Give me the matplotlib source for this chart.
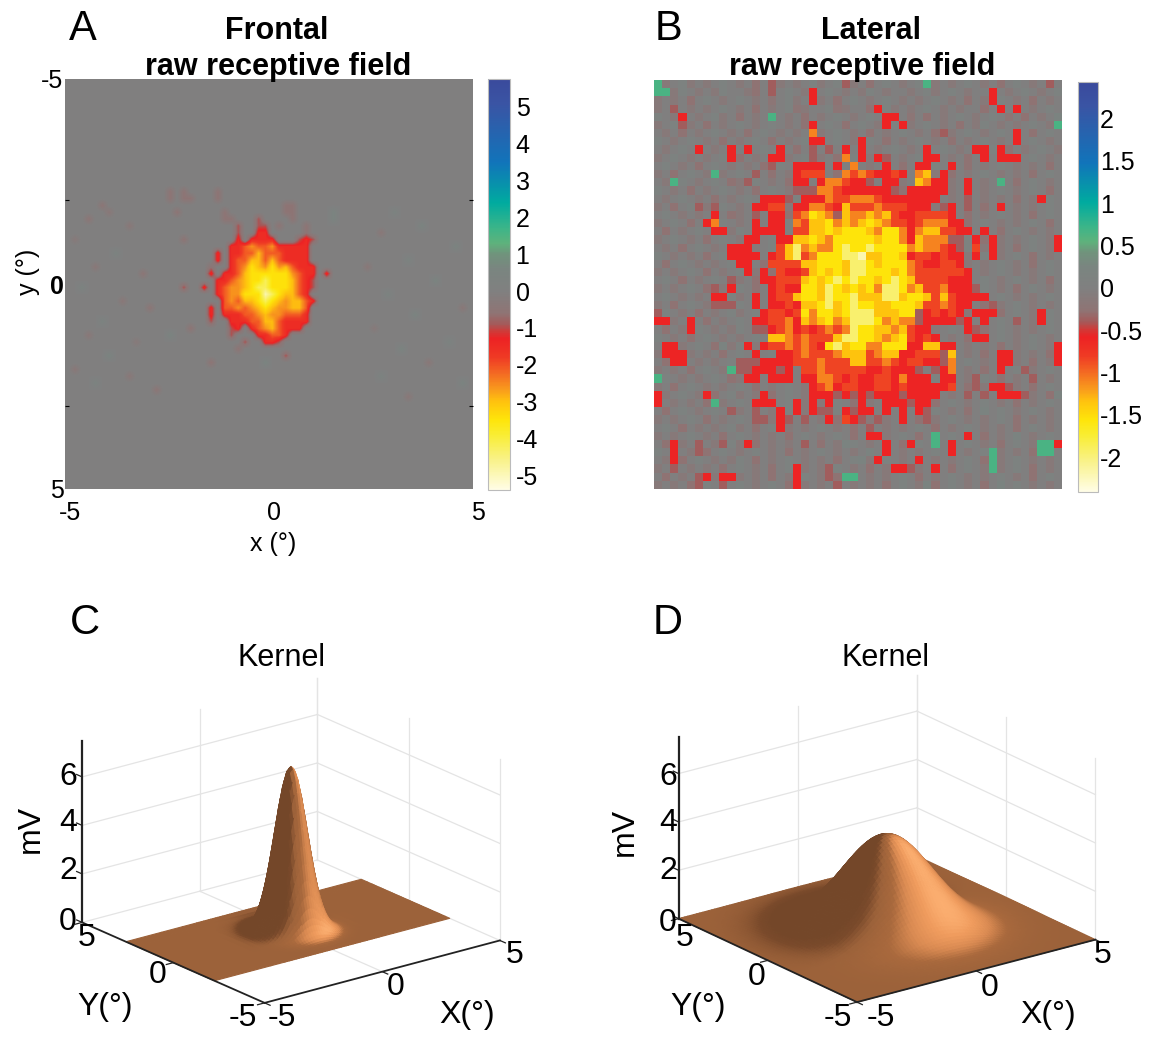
#!/usr/bin/env python3
# Receptive fields (top) and fitted kernels (bottom) for frontal and lateral eye
import numpy as np
import matplotlib
matplotlib.use("Agg")
import matplotlib.pyplot as plt
from matplotlib.colors import LinearSegmentedColormap, to_rgb
from matplotlib.transforms import ScaledTranslation
from mpl_toolkits.mplot3d import Axes3D  # noqa: F401

W, H = 1149, 1038
plt.rcParams.update({"font.family": ["Liberation Sans", "DejaVu Sans"], "font.size": 17})

# ── colour scale anchors ────
CBAR_A_VALUES = [-5.4, -4.6, -3.9, -3.5, -3.0, -2.7, -2.2, -1.8, -1.3, -1.1, -0.9, -0.6,
                 0, 0.6, 1.0, 1.3, 1.7, 2.4, 3.5, 5.1, 5.76]
CBAR_COLORS = ["#fffde6", "#f9f28a", "#f9ed32", "#fee50a", "#ffc20e", "#f99d1c", "#f36523",
               "#ef3a24", "#ed2224", "#d03a38", "#a45a5a", "#8f7474", "#808080", "#7a8580",
               "#70937c", "#5eb27c", "#3db588", "#00ab9f", "#1174ba", "#3a54a4", "#3a4a9c"]
CBAR_A_TICKS = [5, 4, 3, 2, 1, 0, -1, -2, -3, -4, -5]
CBAR_B_TICKS = [2, 1.5, 1, 0.5, 0, -0.5, -1, -1.5, -2]
CBAR_B_LABELS = ["2", "1.5", "1", "0.5", "0", "-0.5", "-1", "-1.5", "-2"]
VLIM_A = (-5.4, 5.76)
VLIM_B = (-2.41, 2.43)

# ── panel A: central blob, cell codes → value ────────────────
LEVELS_A = {".": 0, "t": 0.5, "f": -0.55, "d": -0.95, "r": -1.5, "e": -2.1, "o": -2.6,
            "a": -2.95, "y": -3.45, "l": -4.2, "w": -4.9}
FIELD_A_N = 60
BLOB_A_ROW0, BLOB_A_COL0 = 16, 15
BLOB_A = [
    "f.f....f.. .......... ..........",
    "f.ff...f.. .......... ..........",
    ".......... .......ff. ..........",
    ".f......f. .......ff. ....t.....",
    "........ff ...d....f. ....t.....",
    ".......... d..dd.f... f.........",
    ".......... d..rr..... f.........",
    "..f....... r.rrrr...d rd........",
    ".........r reoeeorrrr r.........",
    ".......r.r reeaeeerrr r.........",
    ".......r.r eeaaeaerrr r.........",
    "......f..r eoyaoyoaer rr........",
    "......r.rr eayyyyyyoe rr.r......",
    ".......rre oayylyyyae rd........",
    "..d..r.reo oayllyyyae rd........",
    ".......reo oyyywlyaae r.........",
    "........eo eaaylyaoaa er........",
    "......r.ee oeoayaooaa e.........",
    "......r.rr reeoaooeee r.........",
    "......d..r rreeaaerrr r.........",
    "...f.....d r.reoaerrr ..........",
    "t........d ...rreer.. ..........",
    ".......... .d..rrd... ..........",
    ".......... f......... ..........",
    ".......... .......d.. ..........",
    "......f... ....t..... ..........",
    ".......... .......... ..........",
]
# faint speckle in the mid band of panel A
FAINT_A_ROWS = [18, 19, 20, 21, 23, 25, 27, 28, 30, 32, 33, 35, 37, 38, 40, 42, 43, 44, 45,
                19, 21, 22, 24, 26, 27, 29, 31, 33, 34, 36, 38, 39, 41, 43, 44, 46]
FAINT_A_COLS = [5, 6, 3, 9, 1, 7, 4, 11, 2, 8, 12, 5, 3, 10, 6, 1, 9, 4, 13,
                48, 52, 46, 57, 50, 44, 54, 47, 58, 51, 45, 56, 49, 53, 46, 58, 50]
FAINT_A_VALS = [-0.5, -0.4, -0.5, -0.4, -0.3, 0.4, -0.4, -0.5, 0.4, -0.4, -0.5, 0.4, -0.4, -0.3,
                0.5, -0.4, -0.4, 0.4, -0.5,
                0.4, 0.5, -0.4, 0.5, 0.4, -0.4, 0.5, 0.4, -0.4, 0.5, -0.3, 0.4, 0.5, -0.4,
                0.4, 0.5, -0.4]

# ── panel B: 50 x 50 cells, cell codes → value ───────────────
LEVELS_B = {".": 0, "h": 0.18, "g": 0.65, "f": -0.22, "d": -0.38, "r": -0.6, "e": -0.85,
            "o": -1.1, "a": -1.35, "y": -1.55, "l": -1.95, "w": -2.2}
LEVELS_MOTTLE = {".": 0, "h": 0.12, "f": -0.14, "d": -0.27}
FIELD_B = [
    "g......... ....d..... ...d...... ...g...... ........d.",
    "gg........ ....d....r .......... .......... .r........",
    ".......... ....f....r .......... .......... .r........",
    "..d....... .......f.. ..f....r.. .......... ..r.r.....",
    "...r...... ....g..... ........rr .f........ ...f.....h",
    "...d...... .........r ........r. r......... .........g",
    ".......... .........o .......... .....d.... ....r.....",
    ".......... .........r r....r.... .......... ....r.....",
    ".....r...r .r...r...d .d.r.r.... ...r.....r r.r.......",
    ".........r ....rr...d ...o.r.rd. ...rr..... r.rrr.....",
    ".......... ....d..rrr r.r.o...r. ..rr..r... ..........",
    ".......g.. ..d....ree e..oeoerre r.oa.r.... ..........",
    "..g....... .d.....rr. rooerrd.rr ..aorr..r. ..g.......",
    ".......... .......ddd ooerrrrrrd .rrrrr..r. ..........",
    ".......... ...rrrd.rr roeeoooerr rrrrr...d. .......r..",
    ".....d.d.. ..rree.rro oeraeeeoee errr.dr.d. ..r.......",
    ".......r.. ..d.rr.eoy aodaooaoae rreeeer... ..........",
    "......ro.. ..r.rr.oea ayoaoayaoe ereooorr.. ..........",
    ".......rr. ..rrrr.eea ayayyyaoyy oroaaeerr. r.........",
    ".......... .rr..rraay aoyyyyyayy oraooodd.r .r.......r",
    ".........r rr...ealoa ooylyylyyy yoaooerd.e .r.......r",
    ".........r rrr.realeo yyyllwaayy areererr.r .r........",
    ".......... rr..eeeeaa yyyallyayy yoerreer.. ..........",
    ".......... .r.r.errea yayallyyya yoeeeeeer. ..........",
    ".........d ...rreeeay aylylyyayl yaeeeerrr. ..........",
    ".......d.r ....rerryy alyayayoll yoaeeorrrd ..........",
    ".......rr. ..r.reeayy alyylaaall ayyaeaerrr r.........",
    ".......ddd ..r.rreraa ylaylyyaay yyaeeoerr. .d........",
    "d......... ...reereyo yyaylllaaa yydrerer.r rr.....r..",
    "rr..r..... ..rreeorao ayoalllyoa oodrrrrdr. r...d..r..",
    "....r..... ..ddreorer eoeolyyaao aerr....rd ..........",
    ".......... ....aaoeoe eeallyyaoa yerer....r r.........",
    ".rr.....h. .r.reeoeoe rylayyooyy yrraarr... .........r",
    ".rrr...... ..r..rreoe eeoaaaeoaa rreeeda... ..rr.....r",
    "..rr...... dddrrrreee oeeeaaeeoe reerrdo... ..rr.....r",
    ".........g ddrrrdr.ee oeeeeerrer rrd.dro... ..r..d....",
    "g......... .rr.rrr.rr ooererreer orrr.rr..d ......d...",
    ".......... .........r eoreerreer errrrre..d .rrd......",
    "r.....r... ...r.....r rrdrdrdrrr drrrr...d. d.rrrd...h",
    "r......g.. ..rrr..r.r .r...r..rr rdrr...... ..........",
    ".........d ..d..r.r.r dd.rdrr.r. r.rd...... h.........",
    ".......... ..dd.rd.d. .r.erd.d.. r..d...... ..........",
    ".......... .....r.... ......d... .......... ..........",
    ".......... .......... ......rr.. ....g...r. ....h.....",
    "..r..d..d. .r......d. ...h....r. .r..g.r... .......ggr",
    "..r..d.... .......... ......h.r. ......r... .g.....gg.",
    "..r....... .......... .....h.r.. ..r....... .g........",
    "..d....... .......r.. .d.......r rd..r..... .g........",
    ".....dr.rr .......r.. .d.gg..... .......... ..........",
    ".....d..d. .......r.. ..d....... ...h...... ..h.......",
]
# mottled background of panel B, used only where FIELD_B has "."
MOTTLE_B = [
    ".f.hf.f.h. f.d.hf.f.h f.h.f.d.h. f.h.f.f.h. f.d.h.f.h.",
    "..fh.f.fh. .fd.f.h.f. .h.f.fh.f. .f.hf.h.f. .d.f.h.f.h",
    "f.f.d.h.f. h.f.f.hf.. f.d.h.f.h. f.f.h.f.d. f.h.f.d.f.",
    "f.h.f.f.h. f.d.f.h.f. .h.f..d.hf .f.h.f.f.. d.h.f.f.h.",
    "h.f..f.hf. d.f.h.f.d. f.h.f.h.f. .h.d.f.h.f .h.f.d.f.h",
    "f.h.f.d.f. h.f.h.f.df .h.d.h.f.h .f.h.f.d.f h.f.f.h.f.",
    ".f.d.f.h.f .d.h.f.f.h f.h.f.d.f. h.f.d.f.h. f.h.f.d.h.",
    "h.f.h.f.d. f.h.d.f.h. f.h.f.h.d. f.h.f.d.f. h.f.f.h.f.",
    ".f.h.d.f.h .f.h.f.d.f .h.f.d.f.h .f.d.h.f.f .h.d.f.h.f",
    "f.h.f.f.h. d.f.h.f.h. f.d.h.f.d. f.h.f.f.d. h.f.d.h.f.",
    ".h.f.d.h.f .f.d.h.f.f h.f.d.f.h. d.f.h.f.d. f.h.f.f.d.",
    "f.d.h.f.f. h.f.d.f.h. f.d.f.h.f. d.h.f.d.f. h.f.f.d.h.",
    ".f.h.f.h.d f.h.f.d.f. h.d.f.d.h. f.d.h.f.h. f.f.d.h.f.",
    "h.f.d.f.h. f.d.h.f.h. f.d.f.h.f. d.f.h.f.d. f.h.f.h.d.",
    ".f.h.f.d.f .h.d.f.h.f d.f.h.f.d. f.h.d.f.h. f.f.d.f.h.",
    "f.d.h.f.h. f.h.d.f.h. f.d.h.f.f. h.d.f.h.f. d.h.f.f.h.",
    ".h.f.f.h.d f.h.f.d.f. h.f.d.f.h. f.d.f.h.d. f.h.f.d.h.",
    "f.h.d.f.h. f.f.d.h.f. d.h.f.h.f. d.f.h.f.d. h.f.f.h.d.",
    ".d.f.h.f.f h.d.f.h.f. d.f.h.d.f. h.f.d.h.f. f.d.h.f.f.",
    "f.h.f.d.h. f.f.h.d.f. h.f.d.h.f. f.d.h.f.h. d.f.f.h.f.",
    ".f.d.h.f.h d.f.h.f.f. d.h.f.d.f. h.f.d.f.h. f.f.d.h.f.",
    "h.f.f.d.h. f.h.d.f.h. f.f.d.h.f. d.h.f.d.f. h.f.h.d.f.",
    ".d.h.f.f.h .f.d.f.h.f d.h.f.f.d. h.f.h.d.f. f.h.f.d.h.",
    "f.f.h.d.f. h.f.d.h.f. f.d.h.f.h. d.f.f.h.d. f.h.f.f.h.",
    ".h.d.f.h.f f.d.h.f.f. h.d.f.h.f. f.d.h.f.d. h.f.h.f.d.",
    "f.f.h.d.f. h.d.f.f.h. d.f.h.f.d. f.h.f.f.d. h.f.d.h.f.",
    ".h.f.f.d.h f.d.h.f.f. h.d.f.h.f. d.f.f.h.d. f.h.f.f.h.",
    "f.d.h.f.f. h.f.d.h.f. f.d.h.f.h. f.d.f.h.f. d.f.h.f.f.",
    ".h.f.d.f.h f.h.f.d.f. h.f.d.f.h. f.f.d.h.f. f.d.h.f.h.",
    "f.f.h.d.f. h.f.f.d.h. f.d.h.f.f. h.d.f.h.f. f.h.d.f.h.",
    ".d.f.h.f.f h.d.f.h.f. f.d.h.f.h. d.f.f.h.f. d.h.f.f.h.",
    "h.f.d.h.f. f.h.d.f.f. h.d.f.h.f. f.d.h.f.d. f.h.f.h.f.",
    ".f.f.h.d.f h.f.f.d.h. f.h.d.f.f. h.f.d.h.f. f.d.f.h.f.",
    "f.h.f.f.d. h.f.h.d.f. f.d.h.f.h. f.d.f.h.f. d.h.f.f.d.",
    ".d.h.f.f.h .d.f.h.f.f d.h.f.d.f. h.f.f.d.h. f.h.f.d.f.",
    "f.f.d.h.f. h.f.d.f.h. f.h.d.f.f. h.d.f.h.f. d.f.h.f.h.",
    ".h.f.f.h.d f.f.h.d.f. h.f.f.d.h. f.d.h.f.f. h.d.f.h.f.",
    "f.d.h.f.f. h.d.f.h.f. d.f.h.f.h. d.f.f.h.d. f.h.f.d.h.",
    ".f.h.f.d.h f.f.d.h.f. h.d.f.f.h. f.d.h.f.f. d.h.f.f.d.",
    "h.f.f.d.f. h.d.f.h.f. f.h.d.f.h. f.f.d.h.f. h.f.d.f.h.",
    ".d.h.f.h.f f.d.f.h.f. d.h.f.f.d. h.f.h.f.d. f.h.f.h.f.",
    "f.f.h.d.f. h.f.f.d.h. f.d.h.f.f. h.d.f.h.f. f.h.d.f.f.",
    ".h.d.f.f.h f.d.h.f.f. h.f.d.h.f. f.h.d.f.h. f.f.d.h.f.",
    "f.f.h.f.d. h.f.f.d.h. f.h.d.f.f. h.d.f.h.f. d.f.h.f.h.",
    ".d.f.h.f.h f.d.f.f.h. d.f.h.f.f. d.h.f.f.h. f.d.h.f.f.",
    "h.f.f.d.h. f.h.f.d.f. h.f.f.d.h. f.f.h.d.f. h.f.f.d.h.",
    ".f.d.h.f.f h.d.f.h.f. f.d.h.f.h. f.d.f.f.h. d.f.h.f.f.",
    "f.h.f.f.d. h.f.d.h.f. f.h.f.d.f. h.f.f.d.h. f.f.h.d.f.",
    ".d.f.h.f.h f.f.d.f.h. f.d.h.f.f. h.d.f.h.f. f.h.f.d.h.",
    "f.f.d.h.f. h.f.h.d.f. f.h.f.f.d. h.f.d.h.f. d.f.h.f.f.",
]

# ── kernels: height through the peak vs distance from centre (mV) ─
KERNEL_C_R = [0, 0.1, 0.2, 0.3, 0.4, 0.5, 0.6, 0.7, 0.8, 0.9, 1.0, 1.1, 1.2, 1.3, 1.4, 1.5,
              1.6, 1.7, 1.8, 1.9, 2.0, 2.25, 2.6, 3.5, 5]
KERNEL_C_H = [6.80, 6.69, 6.36, 5.86, 5.22, 4.50, 3.75, 3.03, 2.36, 1.78, 1.30, 0.92, 0.63,
              0.42, 0.27, 0.17, 0.10, 0.06, 0.03, 0.02, 0.01, 0, 0, 0, 0]
KERNEL_C_YLIM = (-2.25, 2.6)  # kernel only covers this mid band
KERNEL_D_R = [0, 0.125, 0.25, 0.375, 0.5, 0.625, 0.75, 0.875, 1, 1.125, 1.25, 1.375, 1.5,
              1.625, 1.75, 1.875, 2, 2.125, 2.25, 2.375, 2.5, 2.625, 2.75, 2.875, 3, 3.125,
              3.25, 3.375, 3.5, 3.625, 3.75, 3.875, 4, 4.125, 4.25, 4.375, 4.5, 4.625,
              4.75, 4.875, 5]
KERNEL_D_H = [3.900, 3.887, 3.849, 3.787, 3.701, 3.595, 3.469, 3.325, 3.166, 2.995, 2.817,
              2.630, 2.441, 2.250, 2.060, 1.875, 1.695, 1.520, 1.358, 1.205, 1.061, 0.930,
              0.807, 0.700, 0.598, 0.510, 0.432, 0.364, 0.304, 0.252, 0.208, 0.171, 0.139,
              0.113, 0.091, 0.073, 0.058, 0.046, 0.036, 0.028, 0.022]
Z_MAX = 7.5
Z_TICKS = [0, 2, 4, 6]

SHADE_V = [0.40, 0.50, 0.61, 0.75, 0.86, 0.95, 1.00]
SHADE_C = ["#744729", "#7a4a2b", "#9c623a", "#a9693d", "#d98a52", "#f09c5e", "#fbae70"]
LIGHT = (0.28, -0.74, 0.61)


def decode(rows, levels):
    return np.array([[levels[c] for c in r.replace(" ", "")] for r in rows], dtype=float)


def px_box(x0, y0, x1, y1):
    return [x0 / W, 1 - y1 / H, (x1 - x0) / W, (y1 - y0) / H]


def label(x, y, s, **kw):
    kw.setdefault("ha", "center")
    kw.setdefault("va", "center")
    fig.text(x / W, 1 - y / H, s, **kw)


def mirror(r, h):
    r, h = np.array(r, dtype=float), np.array(h, dtype=float)
    return np.r_[-r[:0:-1], r], np.r_[h[:0:-1], h]


def shade_colors(X, Y, Z):
    dzdy = np.gradient(Z, Y[:, 0], axis=0)
    dzdx = np.gradient(Z, X[0, :], axis=1)
    n = np.sqrt(dzdx**2 + dzdy**2 + 1)
    g = (-dzdx * LIGHT[0] - dzdy * LIGHT[1] + LIGHT[2]) / n
    rgb = np.array([to_rgb(c) for c in SHADE_C])
    out = np.stack([np.interp(g, SHADE_V, rgb[:, i]) for i in range(3)], axis=-1)
    return np.dstack([out, np.ones(Z.shape)])


def kernel_panel(center_x, center_y, size, azim, elev, X, Y, Z):
    half = 0.5135 * size
    ax = fig.add_axes(px_box(center_x - half, center_y - half,
                             center_x - half + size, center_y - half + size),
                      projection="3d", computed_zorder=False)
    ax.patch.set_alpha(0)
    ax.set_proj_type("ortho")
    ax.view_init(elev=elev, azim=azim)
    ax.set_box_aspect((1, 1, 0.65), zoom=550 / size / 1.2225)
    ax.set_xlim(-5, 5)
    ax.set_ylim(-5, 5)
    ax.set_zlim(0, Z_MAX)
    ax.set_axis_off()

    gc = {"color": "#e4e4e4", "lw": 0.9, "zorder": 1}
    for z in Z_TICKS[1:]:
        ax.plot([-5, 5], [5, 5], [z, z], **gc)
        ax.plot([5, 5], [5, -5], [z, z], **gc)
    for v in [0, 5]:
        ax.plot([v, v], [5, 5], [0, Z_MAX], **gc)
    for v in [5, 0, -5]:
        ax.plot([5, 5], [v, v], [0, Z_MAX], **gc)
    for v in [0, 5]:
        ax.plot([v, v], [-5, 5], [0, 0], **gc)
        ax.plot([-5, 5], [v, v], [0, 0], **gc)

    ax.plot_surface(X, Y, Z, facecolors=shade_colors(X, Y, Z), rstride=1, cstride=1,
                    shade=False, linewidth=0.8, antialiased=True, zorder=2)

    ac = {"color": "#222222", "zorder": 3}
    ax.plot([-5, -5], [5, 5], [0, Z_MAX], lw=1.6, **ac)
    ax.plot([-5, -5], [5, -5], [0, 0], lw=1.3, **ac)
    ax.plot([-5, 5], [-5, -5], [0, 0], lw=1.3, **ac)
    for z in Z_TICKS:
        ax.plot([-5, -5], [5, 5.3], [z, z], lw=0.9, **ac)
    for v in [-5, 0, 5]:
        ax.plot([-5, -5.3], [v, v], [0, 0], lw=0.9, **ac)
        ax.plot([v, v], [-5, -5.3], [0, 0], lw=0.9, **ac)
    return ax


fig = plt.figure(figsize=(W / 100, H / 100), dpi=100)
cmap_a = LinearSegmentedColormap.from_list(
    "rf_a", [((v - VLIM_A[0]) / (VLIM_A[1] - VLIM_A[0]), c) for v, c in zip(CBAR_A_VALUES, CBAR_COLORS)], N=512)

# ── (A) frontal raw receptive field ──────────────────────────
field_a = np.zeros((FIELD_A_N, FIELD_A_N))
blob = decode(BLOB_A, LEVELS_A)
field_a[BLOB_A_ROW0:BLOB_A_ROW0 + blob.shape[0], BLOB_A_COL0:BLOB_A_COL0 + blob.shape[1]] = blob
field_a[FAINT_A_ROWS, FAINT_A_COLS] = FAINT_A_VALS

ax = fig.add_axes(px_box(65, 79, 473, 489))
im = ax.imshow(field_a, cmap=cmap_a, vmin=VLIM_A[0], vmax=VLIM_A[1], extent=(-5, 5, 5, -5),
               interpolation="bilinear", aspect="auto")
ax.set_xticks([-5, 0, 5])
ax.set_yticks([-5, 0, 5])
ax.set_xticklabels(["-5", "0", "5"])
ax.set_yticklabels(["-5", "0", "5"])
ax.get_yticklabels()[1].set_fontweight("bold")
ax.tick_params(length=0, pad=9, labelsize=18, axis="x")
ax.tick_params(length=0, pad=1, labelsize=18, axis="y")
for lab in ax.get_xticklabels():
    lab.set_transform(lab.get_transform() + ScaledTranslation(3.5 / 72, 0, fig.dpi_scale_trans))
ax.set_yticks([-2.05, 2.98], minor=True)
ax.tick_params(which="minor", length=3, direction="in", left=True, right=True, width=0.8)
for s in ax.spines.values():
    s.set_visible(False)
cax = fig.add_axes(px_box(488, 79, 510, 490))
cb = fig.colorbar(im, cax=cax, ticks=CBAR_A_TICKS)
cb.ax.set_yticklabels([str(t) for t in CBAR_A_TICKS])
cb.ax.tick_params(length=0, pad=4, labelsize=18)
cb.outline.set_edgecolor("#bbbbbb")
label(28, 272, "y (°)", rotation=90, fontsize=18)
label(273, 544, "x (°)", fontsize=18)

# ── (B) lateral raw receptive field ──────────────────────────
cmap_b = LinearSegmentedColormap.from_list(
    "rf_b", [((v * (VLIM_B[0] / VLIM_A[0] if v < 0 else VLIM_B[1] / VLIM_A[1]) - VLIM_B[0]) / (VLIM_B[1] - VLIM_B[0]), c)
             for v, c in zip(CBAR_A_VALUES, CBAR_COLORS)], N=512)
field_b = decode(FIELD_B, LEVELS_B)
mottle = decode(MOTTLE_B, LEVELS_MOTTLE)
field_b = np.where(field_b == 0, mottle, field_b)
ax = fig.add_axes(px_box(654, 80, 1062, 489))
im = ax.imshow(field_b, cmap=cmap_b, vmin=VLIM_B[0], vmax=VLIM_B[1],
               extent=(-5, 5, 5, -5), interpolation="nearest", aspect="auto")
ax.set_axis_off()
cax = fig.add_axes(px_box(1078, 82, 1098, 492))
cb = fig.colorbar(im, cax=cax, ticks=CBAR_B_TICKS)
cb.ax.set_yticklabels(CBAR_B_LABELS)
cb.ax.tick_params(length=0, pad=1.5, labelsize=18)
cb.outline.set_edgecolor("#bbbbbb")

# ── (C) frontal kernel ───────────────────────────────────────
pos_c, h_c = mirror(KERNEL_C_R, KERNEL_C_H)
keep = (pos_c >= KERNEL_C_YLIM[0]) & (pos_c <= KERNEL_C_YLIM[1])
Xc, Yc = np.meshgrid(pos_c, pos_c[keep])
Zc = np.outer(h_c[keep], h_c) / h_c.max()
kernel_panel(291, 854, 500, 232.2, 20, Xc, Yc, Zc)

# ── (D) lateral kernel ───────────────────────────────────────
pos_d, h_d = mirror(KERNEL_D_R, KERNEL_D_H)
Xd, Yd = np.meshgrid(pos_d, pos_d)
Zd = np.outer(h_d, h_d) / h_d.max()
kernel_panel(887, 852, 500, 233.2, 20.5, Xd, Yd, Zd)

# ── titles, panel letters, 3D tick labels ────────────────────
for x, y, s in [(83, 29, "A"), (668, 29, "B"), (85, 623, "C"), (668, 623, "D")]:
    label(x, y, s, fontsize=30)
for x, y, s in [(277, 31, "Frontal"), (278, 67, "raw receptive field"),
                (871, 31, "Lateral"), (862, 67, "raw receptive field")]:
    label(x, y, s, fontsize=22, fontweight="bold")
for x in (282, 886):
    label(x, 658, "Kernel", fontsize=22)

for dx, zero_y, labels in [
    (0, 922, [(87, 938, "5"), (158, 975, "0"), (243, 1018, "-5"), (282, 1018, "-5"),
              (396, 987, "0"), (515, 955, "5"), (105, 1007, "Y(°)"), (467, 1015, "X(°)")]),
    (600, 923, [(685, 938, "5"), (757, 977, "0"), (838, 1018, "-5"), (881, 1018, "-5"),
                (990, 988, "0"), (1103, 955, "5"), (698, 1007, "Y(°)"), (1048, 1015, "X(°)")]),
]:
    zx = 68 if dx == 0 else 668
    for y, s in [(777, "6"), (823, "4"), (871, "2"), (zero_y, "0")]:
        label(zx, y, s, fontsize=23)
    for x, y, s in labels:
        label(x, y, s, fontsize=23)
label(31, 829, "mV", rotation=90, fontsize=23)
label(625, 832, "mV", rotation=90, fontsize=23)

fig.savefig("out.png", dpi=100, facecolor="white")
